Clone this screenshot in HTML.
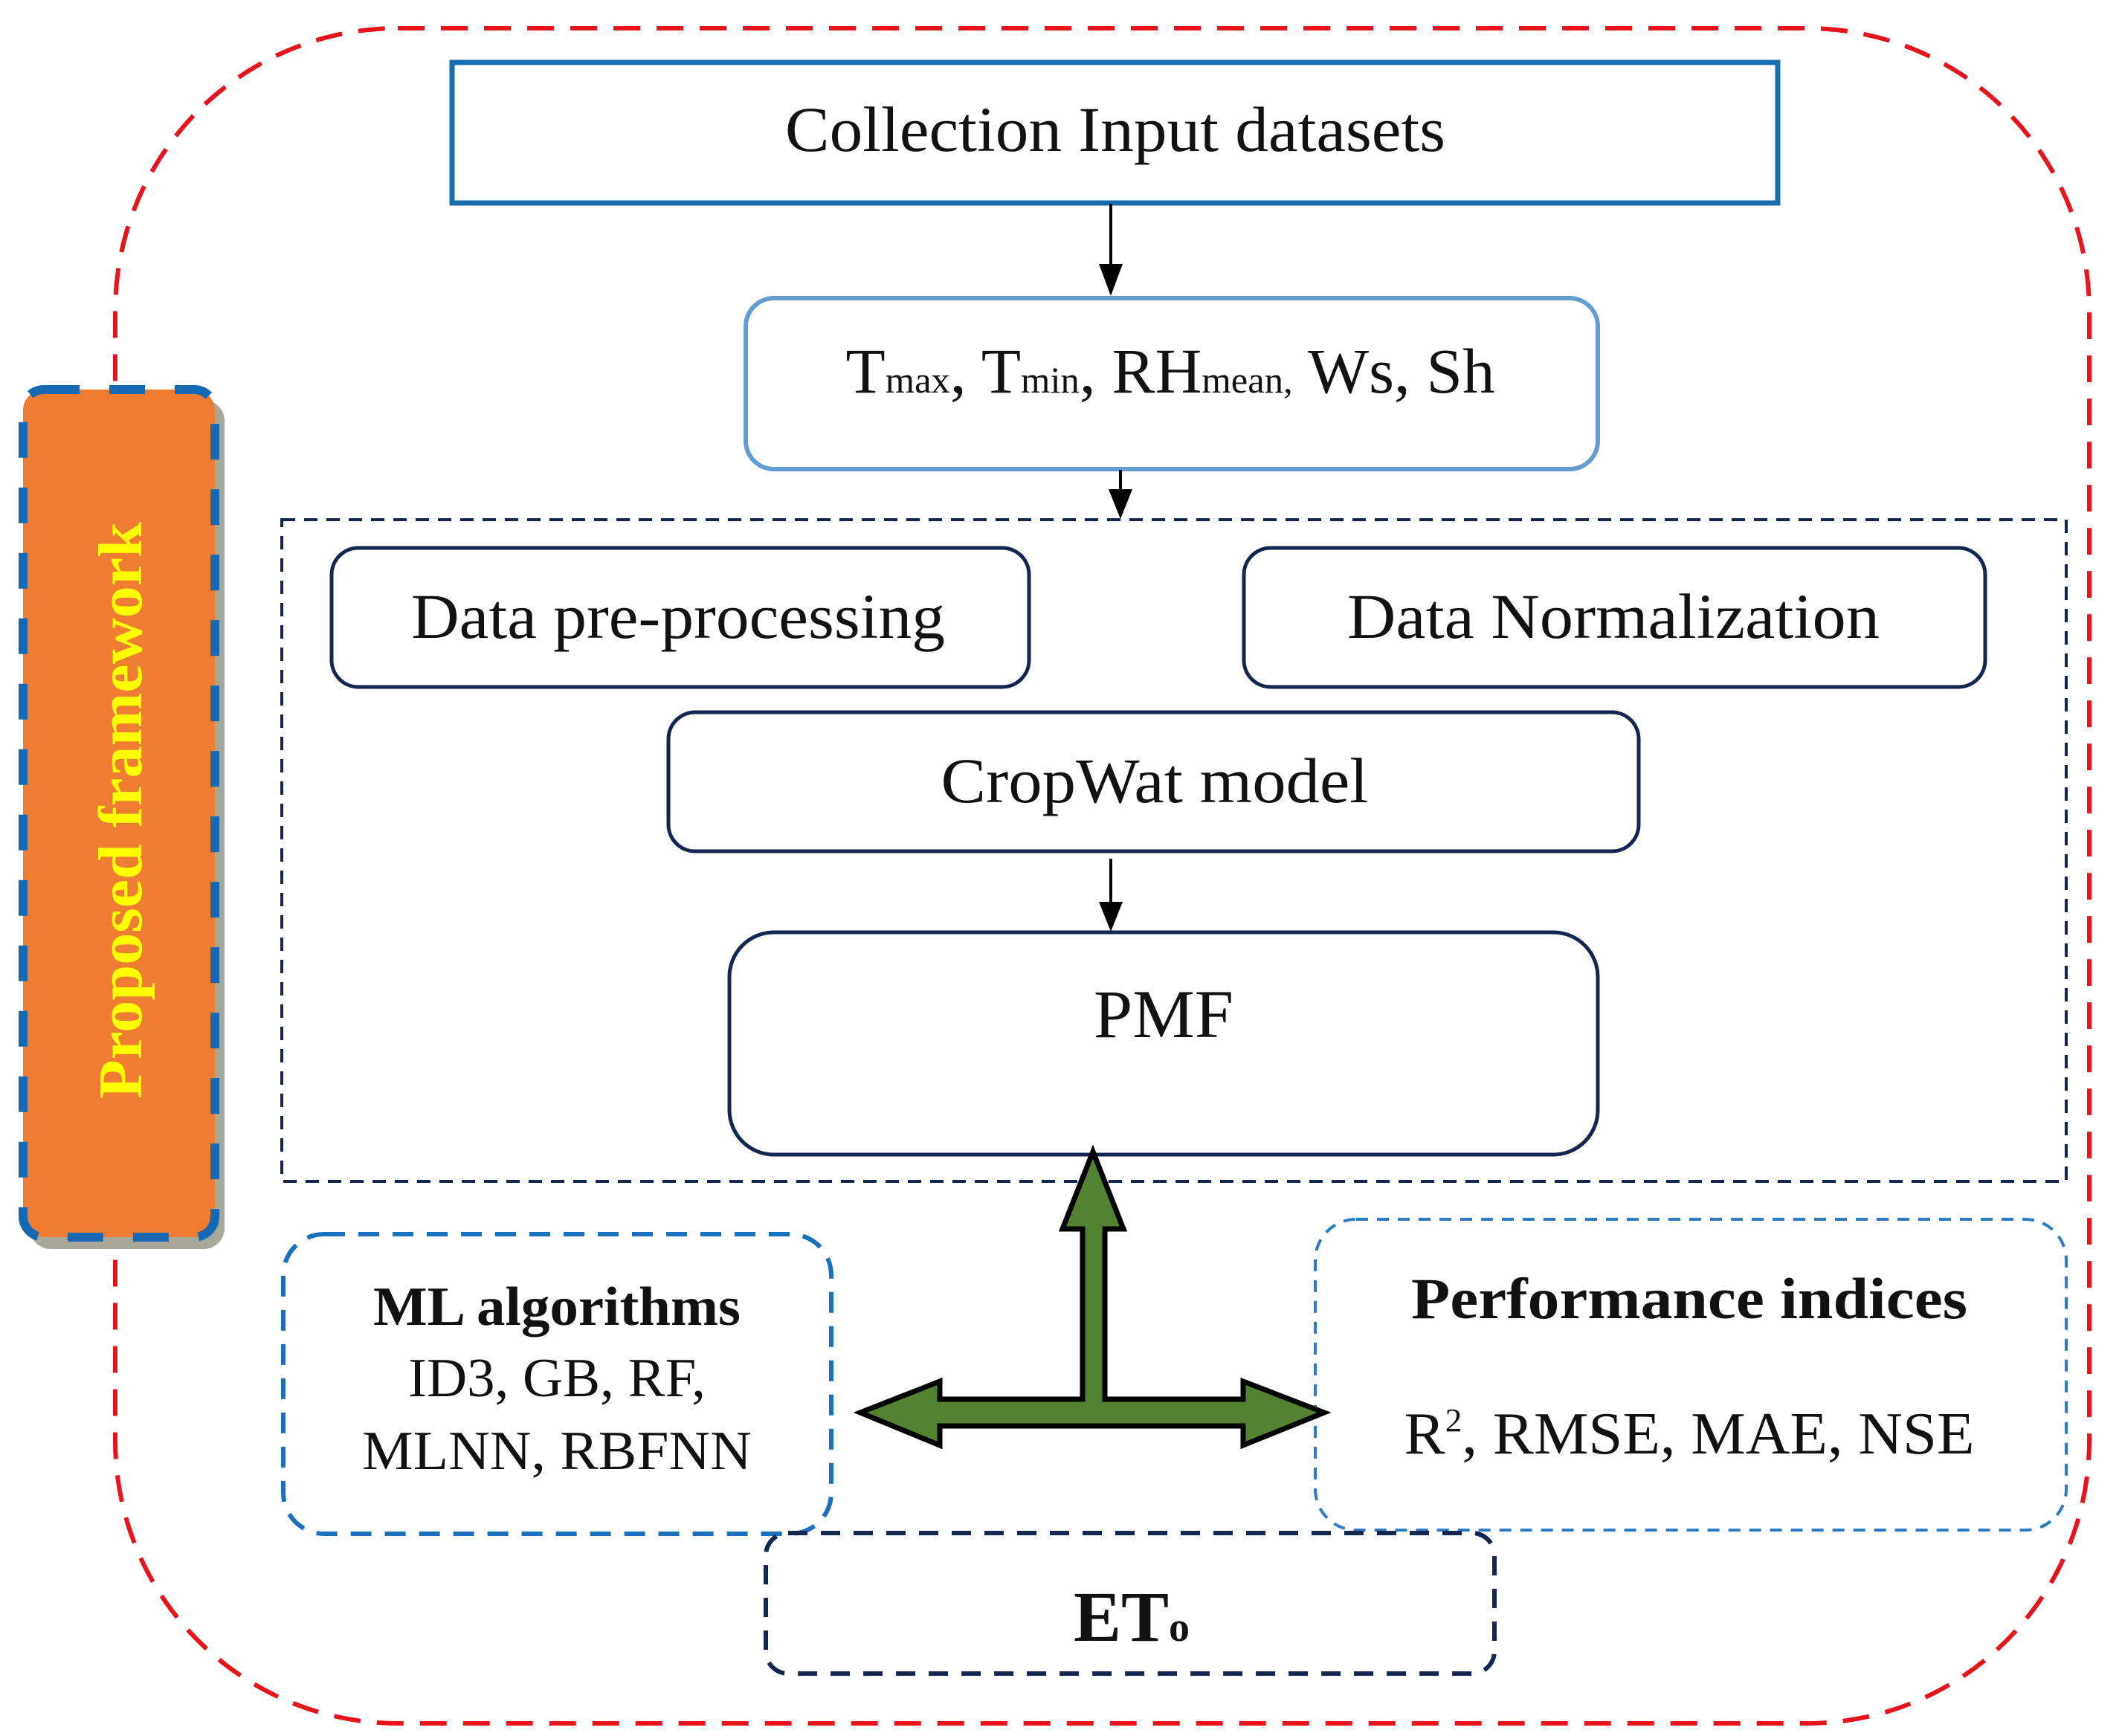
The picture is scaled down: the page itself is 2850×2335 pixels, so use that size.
<!DOCTYPE html>
<html><head><meta charset="utf-8"><style>
html,body{margin:0;padding:0;background:#fff;}
svg{display:block;}
text{font-family:"Liberation Serif",serif;fill:#111;}
</style></head><body>
<svg width="2850" height="2335" viewBox="0 0 2850 2335" xmlns="http://www.w3.org/2000/svg">
<rect x="155" y="38" width="2655" height="2280" rx="380" ry="380" fill="none" stroke="#e8141b" stroke-width="6" stroke-dasharray="36,22"/>
<rect x="40" y="538" width="262" height="1142" rx="28" fill="#a7a89a"/>
<rect x="31" y="524" width="258" height="1140" rx="28" fill="#ee7d31" stroke="#1668b3" stroke-width="12" stroke-dasharray="48,40"/>
<text x="0" y="0" transform="translate(190,1090) rotate(-90)" text-anchor="middle" font-size="84" font-weight="bold" textLength="776" lengthAdjust="spacingAndGlyphs" style="fill:#ffff00">Proposed framework</text>

<rect x="608" y="84" width="1783" height="189" fill="#fff" stroke="#1b6db2" stroke-width="7"/>
<text x="1500" y="203" text-anchor="middle" font-size="86" textLength="888" lengthAdjust="spacingAndGlyphs">Collection Input datasets</text>
<line x1="1494" y1="274" x2="1494" y2="360" stroke="#000" stroke-width="4"/>
<polygon points="1478,355 1510,355 1494,398" fill="#000"/>

<rect x="1003" y="401" width="1146" height="230" rx="38" fill="#fff" stroke="#629cd2" stroke-width="6"/>
<text x="1574" y="528" text-anchor="middle" font-size="86" textLength="873" lengthAdjust="spacingAndGlyphs">T<tspan font-size="50">max</tspan>, T<tspan font-size="50">min</tspan>, RH<tspan font-size="50">mean,</tspan> Ws, Sh</text>
<line x1="1507" y1="632" x2="1507" y2="662" stroke="#000" stroke-width="4"/>
<polygon points="1491,658 1523,658 1507,698" fill="#000"/>

<rect x="379" y="699" width="2400" height="890" fill="none" stroke="#12264f" stroke-width="4" stroke-dasharray="18,12"/>
<rect x="446" y="737" width="938" height="187" rx="36" fill="#fff" stroke="#12264f" stroke-width="5"/>
<text x="912" y="858" text-anchor="middle" font-size="86" textLength="718" lengthAdjust="spacingAndGlyphs">Data pre-processing</text>
<rect x="1673" y="737" width="997" height="187" rx="36" fill="#fff" stroke="#12264f" stroke-width="5"/>
<text x="2170" y="858" text-anchor="middle" font-size="86" textLength="716" lengthAdjust="spacingAndGlyphs">Data Normalization</text>
<rect x="899" y="958" width="1305" height="187" rx="36" fill="#fff" stroke="#12264f" stroke-width="5"/>
<text x="1553" y="1079" text-anchor="middle" font-size="86" textLength="575" lengthAdjust="spacingAndGlyphs">CropWat model</text>
<line x1="1494" y1="1155" x2="1494" y2="1218" stroke="#000" stroke-width="4"/>
<polygon points="1478,1213 1510,1213 1494,1253" fill="#000"/>
<rect x="981" y="1254" width="1168" height="299" rx="60" fill="#fff" stroke="#12264f" stroke-width="5"/>
<text x="1565" y="1395" text-anchor="middle" font-size="92" textLength="188" lengthAdjust="spacingAndGlyphs">PMF</text>

<rect x="381" y="1660" width="737" height="403" rx="55" fill="none" stroke="#1b70bd" stroke-width="6" stroke-dasharray="28,18"/>
<text x="749" y="1782" text-anchor="middle" font-size="74" font-weight="bold" textLength="494" lengthAdjust="spacingAndGlyphs">ML algorithms</text>
<text x="749" y="1878" text-anchor="middle" font-size="74" textLength="400" lengthAdjust="spacingAndGlyphs">ID3, GB, RF,</text>
<text x="749" y="1976" text-anchor="middle" font-size="74" textLength="524" lengthAdjust="spacingAndGlyphs">MLNN, RBFNN</text>

<rect x="1769" y="1640" width="1010" height="418" rx="55" fill="none" stroke="#2c7bc4" stroke-width="4" stroke-dasharray="16,12"/>
<text x="2272" y="1773" text-anchor="middle" font-size="78" font-weight="bold" textLength="748" lengthAdjust="spacingAndGlyphs">Performance indices</text>
<text x="2272" y="1955" text-anchor="middle" font-size="80" textLength="767" lengthAdjust="spacingAndGlyphs">R<tspan font-size="44" dy="-30">2</tspan><tspan dy="30">, RMSE, MAE, NSE</tspan></text>

<rect x="1030" y="2062" width="980" height="189" rx="30" fill="none" stroke="#12264f" stroke-width="6" stroke-dasharray="26,18"/>
<text x="1522" y="2207" text-anchor="middle" font-size="96" font-weight="bold">ET<tspan font-size="56">o</tspan></text>

<polygon points="1470,1549 1511,1653 1486,1653 1486,1882 1672,1882 1672,1858 1781,1900 1672,1944 1672,1918 1264,1918 1264,1944 1157,1900 1264,1858 1264,1882 1456,1882 1456,1653 1429,1653" fill="#538233" stroke="#000" stroke-width="7" stroke-linejoin="miter"/>
</svg>
</body></html>
